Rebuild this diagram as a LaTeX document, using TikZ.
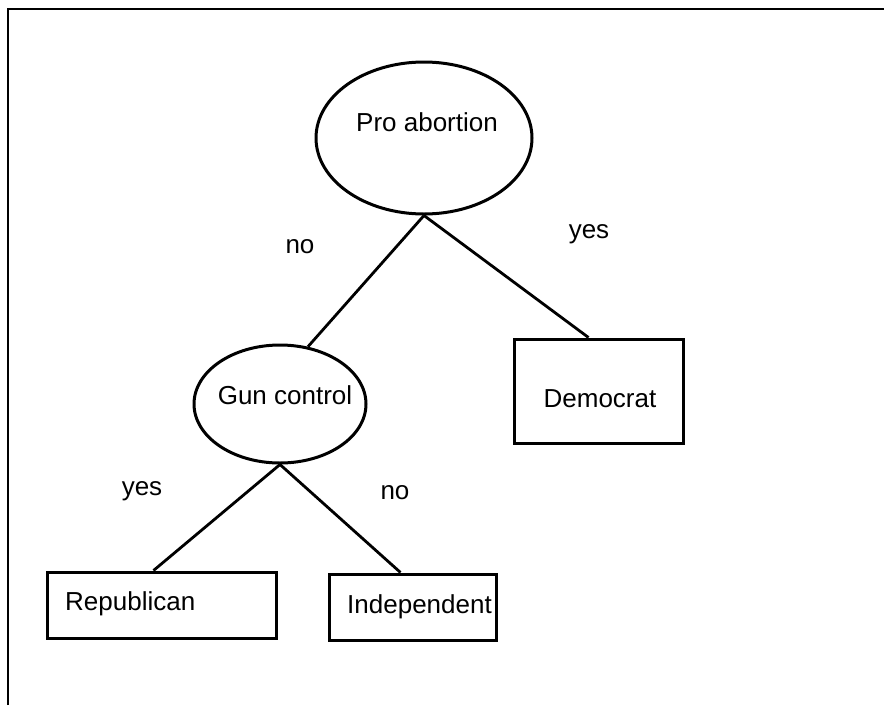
\documentclass[tikz,border=0pt]{standalone}
\usepackage{fontspec}
\setmainfont{Liberation Sans}
\usetikzlibrary{shapes.geometric}
\begin{document}
\begin{tikzpicture}[x=1pt,y=-1pt,
  decision/.style={ellipse, draw, line width=3pt, inner sep=0pt},
  leaf/.style={rectangle, draw, line width=3pt, inner sep=0pt},
  txt/.style={font=\fontsize{26}{30}\selectfont, inner sep=0pt},
  branch/.style={line width=2.8pt},
  frame/.style={line width=2.4pt}]
\useasboundingbox (0,0) rectangle (884,705);

% outer frame (top and left edges)
\coordinate (fbl) at (8,705);
\coordinate (ftl) at (8,9);
\coordinate (ftr) at (884,9);
\draw[frame] (fbl) -- (ftl) -- (ftr);

% decision nodes
\node[decision, minimum width=216pt, minimum height=152pt] (pro) at (424,138) {};
\node[txt, anchor=base] (protxt) at (427,131) {Pro abortion};
\node[decision, minimum width=172pt, minimum height=118pt] (gun) at (280,404) {};
\node[txt, anchor=base] (guntxt) at (285,404) {Gun control};

% leaves
\node[leaf, minimum width=169pt, minimum height=104pt] (dem) at (598.5,391) {};
\node[txt, anchor=base] (demtxt) at (600,407) {Democrat};
\node[leaf, minimum width=229pt, minimum height=66pt] (rep) at (161.5,605) {};
\node[txt, anchor=base west] (reptxt) at (65,610) {Republican};
\node[leaf, minimum width=167pt, minimum height=66pt] (ind) at (412.5,607) {};
\node[txt, anchor=base west] (indtxt) at (347,613) {Independent};

% branches
\draw[branch] (pro.south) -- (gun.64);
\draw[branch] (pro.south) -- ([xshift=-10pt]dem.north);
\draw[branch] (gun.south) -- ([xshift=-8pt]rep.north);
\draw[branch] (gun.south) -- ([xshift=-12pt]ind.north);

% branch labels
\node[txt, anchor=base] (lno1) at (300,253) {no};
\node[txt, anchor=base] (lyes1) at (589,238) {yes};
\node[txt, anchor=base] (lyes2) at (142,495) {yes};
\node[txt, anchor=base] (lno2) at (395,499) {no};
\end{tikzpicture}
\end{document}
